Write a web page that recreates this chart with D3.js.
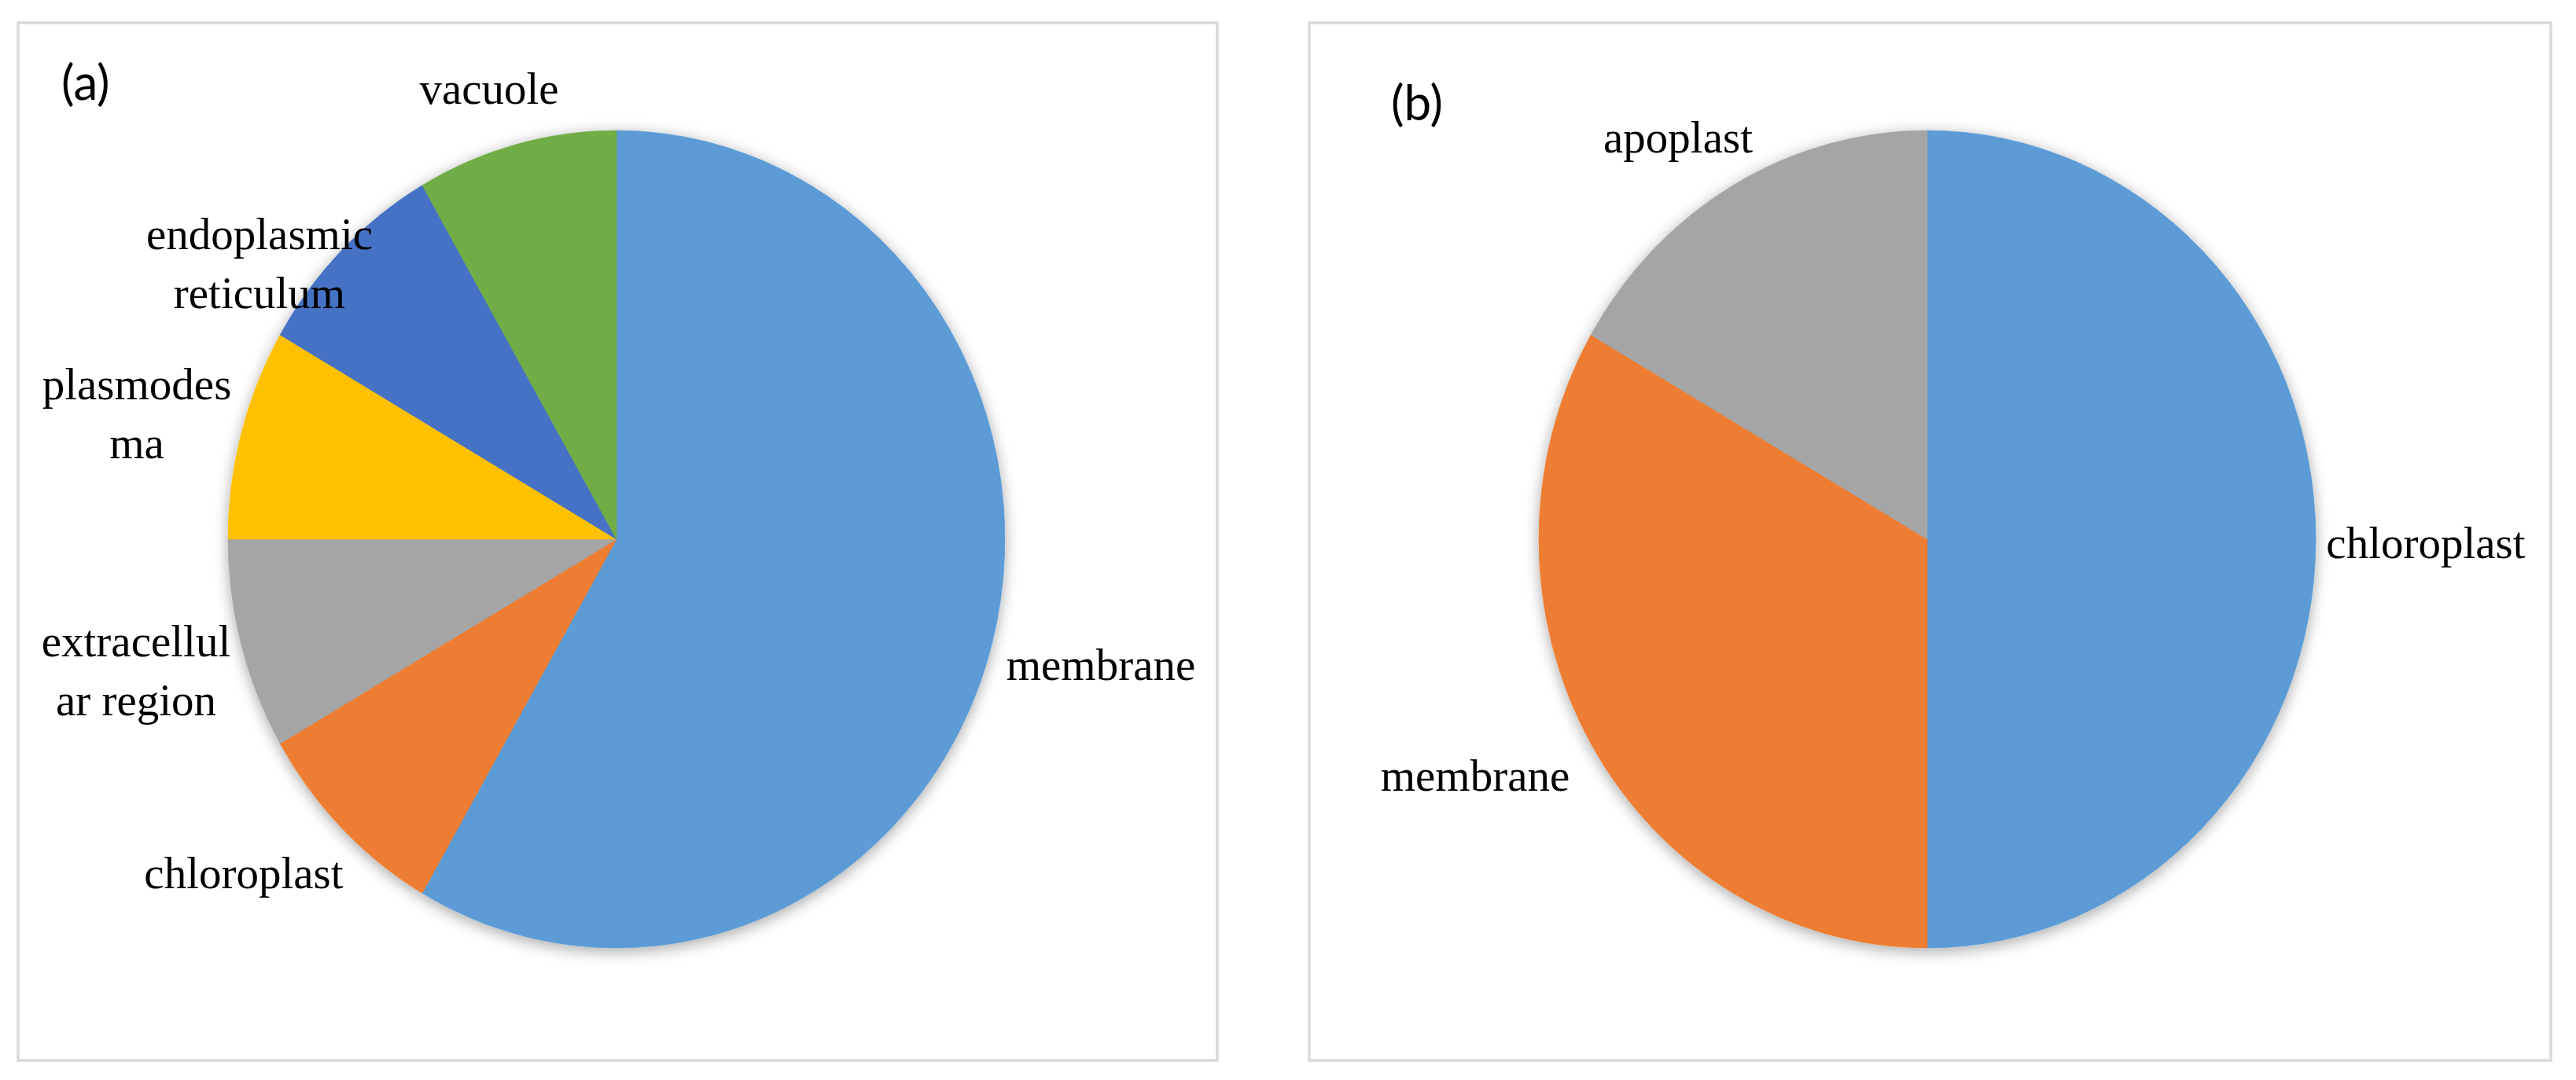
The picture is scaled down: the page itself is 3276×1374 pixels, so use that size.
<!DOCTYPE html>
<html>
<head>
<meta charset="utf-8">
<script src="https://cdnjs.cloudflare.com/ajax/libs/d3/7.8.5/d3.min.js"></script>
<style>
  body { margin: 0; background: #fff; }
  .label { font-family: 'Liberation Serif', 'Times New Roman', serif; font-size: 57px; fill: #000; }
  .tag { font-family: Lato, 'Open Sans', sans-serif; font-size: 62px; fill: #000; }
</style>
</head>
<body>
<script>
// panel (a)
const categoriesA = ['membrane', 'chloroplast', 'extracellular region', 'plasmodesma', 'endoplasmic reticulum', 'vacuole'];
const valuesA = [7, 1, 1, 1, 1, 1];
const labelLinesA = [['membrane'], ['chloroplast'], ['extracellul', 'ar region'], ['plasmodes', 'ma'], ['endoplasmic', 'reticulum'], ['vacuole']];
const colorsA = ['#5B9BD5', '#ED7D31', '#A5A5A5', '#FFC000', '#4472C4', '#70AD47'];

// panel (b)
const categoriesB = ['chloroplast', 'membrane', 'apoplast'];
const valuesB = [3, 2, 1];
const labelLinesB = [['chloroplast'], ['membrane'], ['apoplast']];
const colorsB = ['#5B9BD5', '#ED7D31', '#A5A5A5'];

const width = 3276;
const height = 1374;
const rx = 494;
const ry = 520;
const lineGap = 75;

// label spots, relative to pie centre (x = text centre, y = first baseline)
const labelSpotsA = [[616, 179], [-474, 444], [-611, 149], [-610, -178], [-454, -369], [-162, -554]];
const labelSpotsB = [[634, 24], [-575, 320], [-317, -492]];

const svg = d3.select('body')
                .append('svg')
                .attr('width', width)
                .attr('height', height)
                .style('display', 'block');

const defs = svg.append('defs');
defs.append('filter')
    .attr('id', 'shadow')
    .attr('x', '-20%').attr('y', '-20%')
    .attr('width', '140%').attr('height', '140%')
    .append('feDropShadow')
    .attr('dx', 0)
    .attr('dy', 4)
    .attr('stdDeviation', 9)
    .attr('flood-color', '#000')
    .attr('flood-opacity', 0.35);

const pie = d3.pie().sort(null).value((d) => d);
const arc = d3.arc().innerRadius(0).outerRadius(rx);

const drawPanel = (box, centre, tag, values, colors, categories, lines, spots) => {
    svg.append('rect')
        .attr('x', box[0])
        .attr('y', box[1])
        .attr('width', box[2])
        .attr('height', box[3])
        .attr('fill', '#fff')
        .attr('stroke', '#d9d9d9')
        .attr('stroke-width', 3.5);

    svg.append('text')
        .attr('class', 'tag')
        .attr('x', tag[0])
        .attr('y', tag[1])
        .text(tag[2]);

    const g = svg.append('g')
                .attr('transform', 'translate(' + centre[0] + ',' + centre[1] + ') scale(1,' + (ry / rx) + ')')
                .attr('filter', 'url(#shadow)');

    g.selectAll('path')
        .data(pie(values))
        .enter()
        .append('path')
        .attr('d', arc)
        .attr('fill', (d, i) => colors[i])
        .attr('stroke', (d, i) => colors[i])
        .attr('stroke-width', 0.6)
        .attr('data-name', (d, i) => categories[i]);

    const labels = svg.append('g')
                    .attr('transform', 'translate(' + centre[0] + ',' + centre[1] + ')');

    labels.selectAll('text')
        .data(lines)
        .enter()
        .append('text')
        .attr('class', 'label')
        .attr('text-anchor', 'middle')
        .attr('x', (d, i) => spots[i][0])
        .attr('y', (d, i) => spots[i][1])
        .selectAll('tspan')
        .data((d) => d)
        .enter()
        .append('tspan')
        .attr('x', function () { return this.parentNode.getAttribute('x'); })
        .attr('dy', (d, i) => i === 0 ? 0 : lineGap)
        .text((d) => d);
}

drawPanel([23, 29, 1525, 1320], [784, 686], [78, 127, '(a)'], valuesA, colorsA, categoriesA, labelLinesA, labelSpotsA);
drawPanel([1665, 29, 1579, 1320], [2451, 686], [1769, 153, '(b)'], valuesB, colorsB, categoriesB, labelLinesB, labelSpotsB);
</script>
</body>
</html>
